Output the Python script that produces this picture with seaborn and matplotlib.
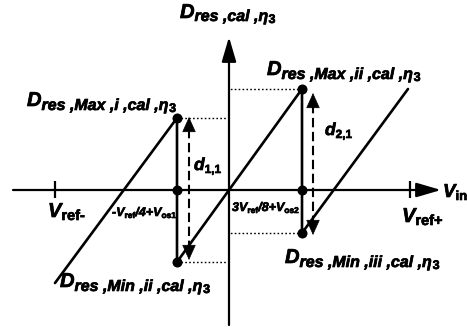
import matplotlib
matplotlib.use("Agg")
import matplotlib.pyplot as plt
import matplotlib.patheffects as pe
from matplotlib.patches import FancyArrowPatch
import pandas as pd
import seaborn as sns

sns.set_theme(style="white")
plt.rcParams["font.family"] = ["Liberation Sans", "DejaVu Sans"]

# Residue transfer characteristic D_res(V_in), drawing units, origin at the axis crossing
vin_curve = [-174, -52, -52, 73, 73, 179]
dres_curve = [-93, 72, -72, 101, -43, 101]

# Transition points marked with dots
vin_dots = [-52, -52, -52, 73, 73, 73]
dres_dots = [72, 0, -72, 101, 0, -43]

# Max / min levels projected onto the D_res axis
proj_x = [-52, -52, 73, 73]
proj_y = [72, -72, 101, -43]

# V_ref- and V_ref+ tick positions on the V_in axis
vref_ticks = [-174, 181]

# Calibration distances d_1,1 and d_2,1: x position, lower tip, upper tip
dist_x = [-40, 84]
dist_lo = [-70, -45]
dist_hi = [73, 97]

INK = "black"

fig = plt.figure(figsize=(4.67, 3.27), dpi=100)
ax = fig.add_axes([0, 0, 1, 1])


def arrow(p0, p1, hl, hw, lw, ls="-"):
    a = FancyArrowPatch(p0, p1,
                        arrowstyle=f"-|>,head_length={hl},head_width={hw}",
                        mutation_scale=1, lw=lw, color=INK, linestyle=ls,
                        shrinkA=0, shrinkB=0, zorder=4)
    ax.add_patch(a)


# coordinate axes with arrow heads
arrow((-216, 0), (212, 0), 15, 4.4, 1.6)
arrow((0, -135), (0, 153), 15, 4.4, 1.6)

# reference ticks
for vx in vref_ticks:
    ax.plot([vx, vx], [-8, 9], color=INK, lw=1.6, solid_capstyle="butt")

# sawtooth characteristic
curve = pd.DataFrame({"vin": vin_curve, "dres": dres_curve})
sns.lineplot(data=curve, x="vin", y="dres", sort=False, estimator=None,
             color=INK, lw=1.9, ax=ax, zorder=3)

# dotted projections onto the D_res axis
for px, py in zip(proj_x, proj_y):
    ax.plot([px, 0], [py, py], color=INK, lw=1.0, ls=(0, (1.2, 1.6)))

# dots at the transitions
sns.scatterplot(x=vin_dots, y=dres_dots, s=52, color=INK, linewidth=0,
                ax=ax, zorder=6)

# dashed double-headed distance arrows
for dx, lo, hi in zip(dist_x, dist_lo, dist_hi):
    ax.plot([dx, dx], [lo + 10, hi - 10], color=INK, lw=1.5,
            ls=(0, (4.5, 2.2)))
    arrow((dx, hi - 14), (dx, hi), 10, 4.5, 0.5)
    arrow((dx, lo + 14), (dx, lo), 10, 4.5, 0.5)

ax.set_xlim(-229, 238)
ax.set_ylim(-137, 190)
ax.axis("off")

renderer = fig.canvas.get_renderer()
heavy = [pe.withStroke(linewidth=0.5, foreground=INK)]


def rich(x, y, parts):
    """Write consecutive text runs: (text, size, italic, baseline shift)."""
    cur = x
    for s, size, italic, dy in parts:
        t = ax.text(cur, y + dy, s, fontsize=size, fontweight="bold",
                    fontstyle="italic" if italic else "normal",
                    va="baseline", ha="left", color=INK, zorder=7,
                    path_effects=heavy)
        cur += t.get_window_extent(renderer).width


BIG, MID, SUB = 14.5, 11.5, 9.0

rich(-49, 172, [("D", BIG, True, 0), ("res ,cal ,η", MID, True, -3),
                ("3", SUB, False, -5)])
rich(-202, 84, [("D", BIG, True, 0), ("res ,Max ,i ,cal ,η", MID, True, -4),
                ("3", SUB, False, -6)])
rich(38, 115, [("D", BIG, True, 0), ("res ,Max ,ii ,cal ,η", MID, True, -4),
               ("3", SUB, False, -6)])
rich(-169, -97, [("D", BIG, True, 0), ("res ,Min ,ii ,cal ,η", MID, True, -4),
                 ("3", SUB, False, -6)])
rich(56, -73, [("D", BIG, True, 0), ("res ,Min ,iii ,cal ,η", MID, True, -4),
               ("3", SUB, False, -6)])

rich(-35, 20, [("d", 12.5, True, 0), ("1,1", 8.5, False, -3)])
rich(96, 55, [("d", 12.5, True, 0), ("2,1", 8.5, False, -3)])

rich(-181, -27, [("V", BIG, True, 0), ("ref-", 10.5, False, -3)])
rich(173, -32, [("V", BIG, True, 0), ("ref+", 10.5, False, -3)])
rich(214, -7, [("V", 13.5, True, 0), ("in", 9.5, False, -3)])

rich(-117, -26, [("-V", 9, True, 0), ("ref", 6, False, -2),
                 ("/4+V", 9, True, 0), ("os1", 6, False, -2)])
rich(3, -21, [("3V", 9, True, 0), ("ref", 6, False, -2),
              ("/8+V", 9, True, 0), ("os2", 6, False, -2)])

fig.savefig("out.png", dpi=100, facecolor="white")
